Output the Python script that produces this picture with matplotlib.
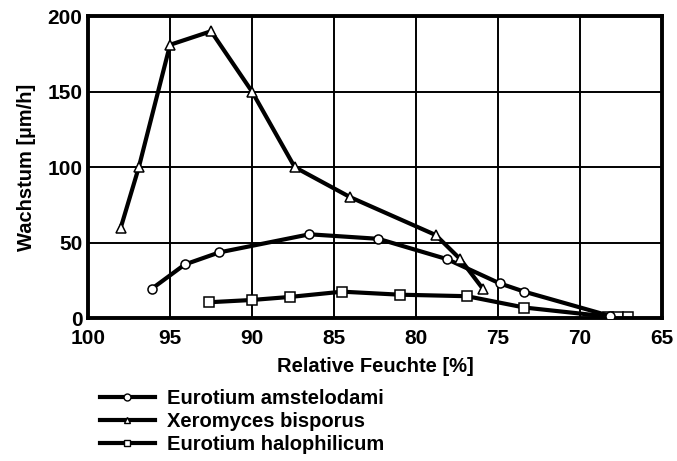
import matplotlib
matplotlib.use("Agg")
import matplotlib.pyplot as plt

plt.rcParams['font.family'] = ['Liberation Sans', 'DejaVu Sans']
plt.rcParams['font.weight'] = 'bold'

# Eurotium amstelodami (circles)
amst_x = [96.1, 94.1, 92.0, 86.5, 82.3, 78.1, 74.9, 73.4, 68.2]
amst_y = [19.5, 35.5, 43.5, 55.5, 52.5, 39, 23, 17.5, 1.5]

# Xeromyces bisporus (triangles)
xero_x = [98.0, 96.9, 95.0, 92.5, 90.0, 87.4, 84.0, 78.8, 77.3, 75.9]
xero_y = [60, 100, 181, 190, 150, 100, 80, 55, 39, 19]

# Eurotium halophilicum (squares)
halo_x = [92.6, 90.0, 87.7, 84.5, 81.0, 76.9, 73.4, 68.3, 67.7, 67.1]
halo_y = [10.5, 12, 14, 17.5, 15.5, 14.5, 7, 1, 1, 1]

fig = plt.figure(figsize=(6.77, 4.61), dpi=100)
ax = fig.add_axes([0.130, 0.310, 0.848, 0.655])

style = dict(color='black', lw=3, mfc='white', mec='black', mew=1.1)
l1, = ax.plot(amst_x, amst_y, marker='o', ms=6.5, zorder=3, **style)
l2, = ax.plot(xero_x, xero_y, marker='^', ms=6.5, zorder=4, **style)
l3, = ax.plot(halo_x, halo_y, marker='s', ms=6.5, zorder=2, **style)

ax.set_xlim(100, 65)
ax.set_ylim(0, 200)
ax.set_xticks([100, 95, 90, 85, 80, 75, 70, 65])
ax.set_yticks([0, 50, 100, 150, 200])
ax.grid(True, color='black', lw=1.4)
ax.set_axisbelow(True)
ax.tick_params(length=0, labelsize=15)
ax.tick_params(axis='x', pad=7.5)
ax.tick_params(axis='y', pad=4)
for s in ax.spines.values():
    s.set_linewidth(2.8)

ax.set_xlabel('Relative Feuchte [%]', fontsize=14.5, fontweight='bold', labelpad=7)
ax.set_ylabel('Wachstum [µm/h]', fontsize=14.5, fontweight='bold', labelpad=8)

hs = []
for m in ['o', '^', 's']:
    h, = ax.plot([], [], marker=m, ms=5, color='black', lw=3, mfc='white', mec='black', mew=1)
    hs.append(h)
fig.legend(hs, ['Eurotium amstelodami', 'Xeromyces bisporus', 'Eurotium halophilicum'],
           loc='upper left', bbox_to_anchor=(0.148, 0.156), frameon=False,
           fontsize=14.5, handlelength=2.7, handletextpad=0.6, labelspacing=0.2,
           borderpad=0, borderaxespad=0)

fig.savefig('out.png', dpi=100)
